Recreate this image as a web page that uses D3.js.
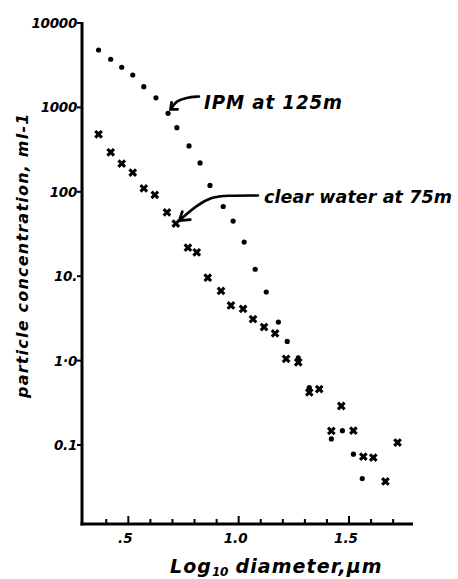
<!DOCTYPE html>
<html><head><meta charset="utf-8">
<script src="https://cdn.jsdelivr.net/npm/d3@7"></script>
<style>
html,body{margin:0;padding:0;background:#fff;}
svg{display:block;}
text{font-family:"DejaVu Sans",sans-serif;font-weight:bold;font-style:italic;fill:#000;}
</style></head>
<body><svg id="c" width="458" height="579"></svg>
<script>
// IPM at 125 m (dots): log10 diameter (µm), concentration (ml^-1)
const ipmLogD = [0.365,0.42,0.47,0.52,0.57,0.625,0.68,0.72,0.775,0.825,0.87,0.93,0.975,1.025,1.075,1.125,1.18,1.22,1.27,1.32,1.42,1.47,1.52,1.56];
const ipmConc = [4790,3720,2990,2420,1760,1300,850,575,350,220,119,67,45,25.4,12.1,6.5,2.86,1.69,1.08,0.48,0.118,0.148,0.078,0.040];
// clear water at 75 m (crosses)
const clearLogD = [0.365,0.42,0.47,0.52,0.57,0.62,0.675,0.715,0.77,0.81,0.86,0.92,0.965,1.02,1.065,1.115,1.165,1.215,1.27,1.32,1.365,1.42,1.465,1.52,1.565,1.61,1.665,1.72];
const clearConc = [480,294,216,169,110,92,57,42,21.8,19.2,9.6,6.7,4.5,4.1,3.1,2.5,2.1,1.05,0.955,0.42,0.46,0.147,0.29,0.148,0.073,0.071,0.037,0.107];
// tick labels
const yTickVals = [10000,1000,100,10,1,0.1];
const yTickLabels = ["10000","1000","100","10.","1·0","0.1"];
const xMajorVals = [0.5,1.0,1.5];
const xMajorLabels = [".5","1.0","1.5"];
const xMinorVals = [0.4,0.6,0.7,0.8,0.9,1.1,1.2,1.3,1.4,1.6,1.7];
const xTitleMain = "Log", xTitleSub = "10", xTitleRest = " diameter,µm";
const yTitle = "particle concentration, ml-1";
const ipmLabel = "IPM at 125m";
const clearLabel = "clear water at 75m";

const svg = d3.select("#c");
const x = d3.scaleLinear().domain([0.29,1.79]).range([82,413]);
const y = d3.scaleLog().domain([0.0116,10000]).range([524,23]);

// axes lines
const g = svg.append("g");
g.append("line").attr("x1",x.range()[0]).attr("x2",x.range()[0]).attr("y1",y.range()[1]-1).attr("y2",y.range()[0]+1.5)
 .attr("stroke","#000").attr("stroke-width",3);
g.append("line").attr("x1",x.range()[0]-1.5).attr("x2",x.range()[1]).attr("y1",y.range()[0]).attr("y2",y.range()[0])
 .attr("stroke","#000").attr("stroke-width",3);

// y ticks
yTickVals.forEach((v,i)=>{
  g.append("line").attr("x1",x.range()[0]-5).attr("x2",x.range()[0]).attr("y1",y(v)).attr("y2",y(v))
   .attr("stroke","#000").attr("stroke-width",2);
  g.append("text").attr("x",x.range()[0]-5).attr("y",y(v)+5).attr("text-anchor","end")
   .attr("font-size",13.5).attr("letter-spacing",-0.3).text(yTickLabels[i]);
});
// x ticks
xMinorVals.forEach(v=>{
  g.append("line").attr("x1",x(v)).attr("x2",x(v)).attr("y1",y.range()[0]).attr("y2",y.range()[0]-5)
   .attr("stroke","#000").attr("stroke-width",2);
});
xMajorVals.forEach((v,i)=>{
  g.append("line").attr("x1",x(v)).attr("x2",x(v)).attr("y1",y.range()[0]).attr("y2",y.range()[0]-8)
   .attr("stroke","#000").attr("stroke-width",2);
  g.append("text").attr("x",x(v)-3).attr("y",y.range()[0]+19).attr("text-anchor","middle")
   .attr("font-size",13.5).text(xMajorLabels[i]);
});

// axis titles
const xt = svg.append("text").attr("x",170).attr("y",573).attr("font-size",19).attr("letter-spacing",1.1);
xt.append("tspan").text(xTitleMain);
xt.append("tspan").attr("font-size",12).attr("dy",3).attr("letter-spacing",-0.5).text(xTitleSub);
xt.append("tspan").attr("dy",-3).text(xTitleRest);

svg.append("text").attr("transform","translate(28,398) rotate(-90)")
  .attr("font-size",16).attr("letter-spacing",0.6).attr("textLength",285).attr("lengthAdjust","spacing").text(yTitle);

// points
const ipm = ipmLogD.map((d,i)=>({d, c: ipmConc[i]}));
const clear = clearLogD.map((d,i)=>({d, c: clearConc[i]}));
svg.append("g").selectAll("circle").data(ipm).join("circle")
  .attr("cx",p=>x(p.d)).attr("cy",p=>y(p.c)).attr("r",2.6).attr("fill","#000");
const cross = d3.symbol().type(d3.symbolCross).size(48);
svg.append("g").selectAll("path").data(clear).join("path")
  .attr("d",cross).attr("transform",p=>`translate(${x(p.d)},${y(p.c)}) rotate(45)`).attr("fill","#000");

// annotations
function arrow(pts, tip, barb1, barb2){
  const line = d3.line().curve(d3.curveBasis);
  svg.append("path").attr("d",line(pts)).attr("fill","none").attr("stroke","#000").attr("stroke-width",2.6).attr("stroke-linecap","round");
  svg.append("path").attr("d",`M${barb1[0]},${barb1[1]}L${tip[0]},${tip[1]}L${barb2[0]},${barb2[1]}`)
    .attr("fill","none").attr("stroke","#000").attr("stroke-width",2.8).attr("stroke-linejoin","miter").attr("stroke-linecap","round");
}
const pI = ipm[6], pC = clear[7];
const tI = [x(pI.d)+2.5, y(pI.c)-4];
arrow([[199,96.5],[186,97.5],[176,101],[tI[0]+1,tI[1]-1]], tI, [tI[0]+1,tI[1]-7], [tI[0]+7,tI[1]]);
const tC = [x(pC.d)+3.5, y(pC.c)-3];
arrow([[258,195.5],[226,195.5],[212,197],[197,205],[tC[0]+1,tC[1]-1]], tC, [tC[0]+3,tC[1]-9], [tC[0]+11,tC[1]-1]);

svg.append("text").attr("x",204).attr("y",108.5).attr("font-size",19.5).attr("letter-spacing",1)
  .attr("textLength",139).attr("lengthAdjust","spacingAndGlyphs").text(ipmLabel);
svg.append("text").attr("x",264).attr("y",203).attr("font-size",17.5).attr("letter-spacing",1)
  .attr("textLength",189).attr("lengthAdjust","spacing").text(clearLabel);
</script></body></html>
